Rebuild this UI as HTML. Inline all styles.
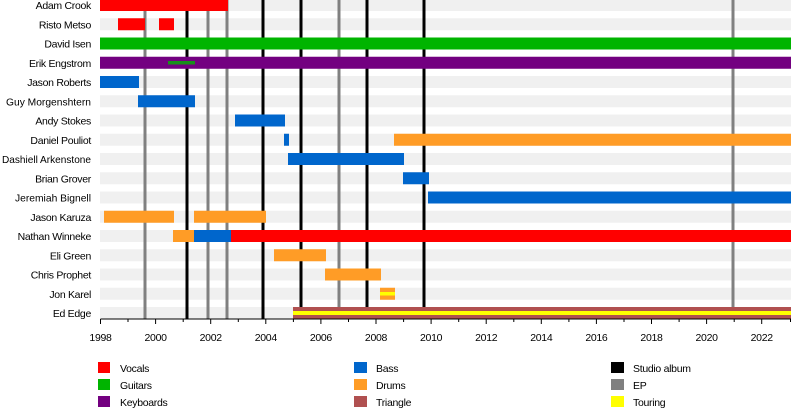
<!DOCTYPE html>
<html><head><meta charset="utf-8"><style>
html,body{margin:0;padding:0;background:#fff;}
svg{display:block;font-family:"Liberation Sans",sans-serif;}
</style></head><body>
<svg width="800" height="408" xmlns="http://www.w3.org/2000/svg">
<g fill="#f0f0f0">
<rect x="100" y="-1" width="691" height="12"/>
<rect x="100" y="18.25" width="691" height="12"/>
<rect x="100" y="37.5" width="691" height="12"/>
<rect x="100" y="56.75" width="691" height="12"/>
<rect x="100" y="76" width="691" height="12"/>
<rect x="100" y="95.25" width="691" height="12"/>
<rect x="100" y="114.5" width="691" height="12"/>
<rect x="100" y="133.75" width="691" height="12"/>
<rect x="100" y="153" width="691" height="12"/>
<rect x="100" y="172.25" width="691" height="12"/>
<rect x="100" y="191.5" width="691" height="12"/>
<rect x="100" y="210.75" width="691" height="12"/>
<rect x="100" y="230" width="691" height="12"/>
<rect x="100" y="249.25" width="691" height="12"/>
<rect x="100" y="268.5" width="691" height="12"/>
<rect x="100" y="287.75" width="691" height="12"/>
<rect x="100" y="307" width="691" height="12"/>
</g>
<g stroke="#808080" stroke-width="3">
<line x1="145" y1="0" x2="145" y2="319"/>
<line x1="208" y1="0" x2="208" y2="319"/>
<line x1="227" y1="0" x2="227" y2="319"/>
<line x1="339" y1="0" x2="339" y2="319"/>
<line x1="733" y1="0" x2="733" y2="319"/>
</g>
<g stroke="#000" stroke-width="3">
<line x1="187" y1="0" x2="187" y2="319"/>
<line x1="263" y1="0" x2="263" y2="319"/>
<line x1="301" y1="0" x2="301" y2="319"/>
<line x1="367" y1="0" x2="367" y2="319"/>
<line x1="424" y1="0" x2="424" y2="319"/>
</g>
<rect x="100" y="-1" width="128" height="12" fill="#ff0000"/>
<rect x="118" y="18.25" width="27" height="12" fill="#ff0000"/>
<rect x="159" y="18.25" width="15" height="12" fill="#ff0000"/>
<rect x="100" y="37.5" width="691" height="12" fill="#00b400"/>
<rect x="100" y="56.75" width="691" height="12" fill="#730080"/>
<rect x="168" y="61" width="27" height="3.5" fill="#00b400" opacity="0.8"/>
<rect x="100" y="76" width="39" height="12" fill="#0066cc"/>
<rect x="138" y="95.25" width="57" height="12" fill="#0066cc"/>
<rect x="235" y="114.5" width="50" height="12" fill="#0066cc"/>
<rect x="284" y="133.75" width="5" height="12" fill="#0066cc"/>
<rect x="394" y="133.75" width="397" height="12" fill="#ff9c26"/>
<rect x="288" y="153" width="116" height="12" fill="#0066cc"/>
<rect x="403" y="172.25" width="26" height="12" fill="#0066cc"/>
<rect x="428" y="191.5" width="363" height="12" fill="#0066cc"/>
<rect x="104" y="210.75" width="70" height="12" fill="#ff9c26"/>
<rect x="194" y="210.75" width="72" height="12" fill="#ff9c26"/>
<rect x="173" y="230" width="21" height="12" fill="#ff9c26"/>
<rect x="194" y="230" width="37" height="12" fill="#0066cc"/>
<rect x="231" y="230" width="560" height="12" fill="#ff0000"/>
<rect x="274" y="249.25" width="52" height="12" fill="#ff9c26"/>
<rect x="325" y="268.5" width="56" height="12" fill="#ff9c26"/>
<rect x="380" y="287.75" width="15" height="12" fill="#ff9c26"/>
<rect x="380" y="292" width="15" height="3.5" fill="#ffff00"/>
<rect x="293" y="307" width="498" height="12" fill="#b05050"/>
<rect x="293" y="311" width="498" height="4" fill="#ffff00"/>
<line x1="100.5" y1="319" x2="791" y2="319" stroke="#000" stroke-width="1"/>
<g stroke="#000" stroke-width="1">
<line x1="100.5" y1="319" x2="100.5" y2="324"/><line x1="128" y1="319" x2="128" y2="322"/>
<line x1="155.6" y1="319" x2="155.6" y2="324"/><line x1="183.2" y1="319" x2="183.2" y2="322"/>
<line x1="210.7" y1="319" x2="210.7" y2="324"/><line x1="238.3" y1="319" x2="238.3" y2="322"/>
<line x1="265.8" y1="319" x2="265.8" y2="324"/><line x1="293.4" y1="319" x2="293.4" y2="322"/>
<line x1="320.9" y1="319" x2="320.9" y2="324"/><line x1="348.5" y1="319" x2="348.5" y2="322"/>
<line x1="376" y1="319" x2="376" y2="324"/><line x1="403.6" y1="319" x2="403.6" y2="322"/>
<line x1="431.1" y1="319" x2="431.1" y2="324"/><line x1="458.7" y1="319" x2="458.7" y2="322"/>
<line x1="486.2" y1="319" x2="486.2" y2="324"/><line x1="513.8" y1="319" x2="513.8" y2="322"/>
<line x1="541.3" y1="319" x2="541.3" y2="324"/><line x1="568.9" y1="319" x2="568.9" y2="322"/>
<line x1="596.4" y1="319" x2="596.4" y2="324"/><line x1="624" y1="319" x2="624" y2="322"/>
<line x1="651.5" y1="319" x2="651.5" y2="324"/><line x1="679.1" y1="319" x2="679.1" y2="322"/>
<line x1="706.6" y1="319" x2="706.6" y2="324"/><line x1="734.2" y1="319" x2="734.2" y2="322"/>
<line x1="761.7" y1="319" x2="761.7" y2="324"/><line x1="790.5" y1="319" x2="790.5" y2="322"/>
</g>
<g font-size="10.5" text-anchor="middle" fill="#000" letter-spacing="-0.3">
<text x="100.5" y="341">1998</text><text x="155.6" y="341">2000</text><text x="210.7" y="341">2002</text>
<text x="265.8" y="341">2004</text><text x="320.9" y="341">2006</text><text x="376" y="341">2008</text>
<text x="431.1" y="341">2010</text><text x="486.2" y="341">2012</text><text x="541.3" y="341">2014</text>
<text x="596.4" y="341">2016</text><text x="651.5" y="341">2018</text><text x="706.6" y="341">2020</text>
<text x="761.7" y="341">2022</text>
</g>
<g font-size="10.5" text-anchor="end" fill="#000" letter-spacing="-0.3">
<text x="91" y="9">Adam Crook</text>
<text x="91" y="28.25">Risto Metso</text>
<text x="91" y="47.5">David Isen</text>
<text x="91" y="66.75">Erik Engstrom</text>
<text x="91" y="86">Jason Roberts</text>
<text x="91" y="105.25" textLength="85" lengthAdjust="spacingAndGlyphs" letter-spacing="0">Guy Morgenshtern</text>
<text x="91" y="124.5">Andy Stokes</text>
<text x="91" y="143.75">Daniel Pouliot</text>
<text x="91" y="163" textLength="89" lengthAdjust="spacingAndGlyphs" letter-spacing="0">Dashiell Arkenstone</text>
<text x="91" y="182.25">Brian Grover</text>
<text x="91" y="201.5" textLength="76" lengthAdjust="spacingAndGlyphs" letter-spacing="0">Jeremiah Bignell</text>
<text x="91" y="220.75">Jason Karuza</text>
<text x="91" y="240">Nathan Winneke</text>
<text x="91" y="259.25">Eli Green</text>
<text x="91" y="278.5">Chris Prophet</text>
<text x="91" y="297.75">Jon Karel</text>
<text x="91" y="317">Ed Edge</text>
</g>
<rect x="98" y="362" width="12" height="11" fill="#ff0000"/>
<rect x="98" y="379" width="12" height="11" fill="#00b400"/>
<rect x="98" y="396" width="12" height="11" fill="#730080"/>
<rect x="354" y="362" width="13" height="11" fill="#0066cc"/>
<rect x="354" y="379" width="13" height="11" fill="#ff9c26"/>
<rect x="354" y="396" width="13" height="11" fill="#b05050"/>
<rect x="611" y="362" width="13" height="11" fill="#000"/>
<rect x="611" y="379" width="13" height="11" fill="#808080"/>
<rect x="611" y="396" width="13" height="11" fill="#ffff00"/>
<g font-size="10.5" fill="#000" letter-spacing="-0.3">
<text x="120" y="372">Vocals</text>
<text x="120" y="389">Guitars</text>
<text x="120" y="406">Keyboards</text>
<text x="376" y="372">Bass</text>
<text x="376" y="389">Drums</text>
<text x="376" y="406">Triangle</text>
<text x="633" y="372">Studio album</text>
<text x="633" y="389">EP</text>
<text x="633" y="406">Touring</text>
</g>
</svg>
</body></html>
